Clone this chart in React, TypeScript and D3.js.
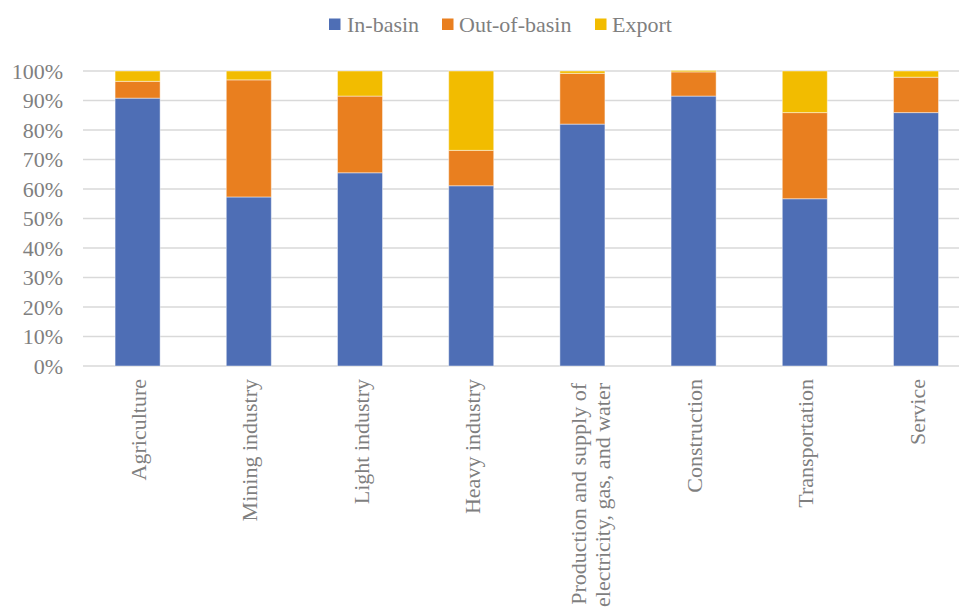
import React from "react";
import * as d3 from "d3";

const categories = [
  "Agriculture",
  "Mining industry",
  "Light industry",
  "Heavy industry",
  "Production and supply of|electricity, gas, and water",
  "Construction",
  "Transportation",
  "Service",
];
const seriesNames = ["In-basin", "Out-of-basin", "Export"];
const inBasin = [0.908, 0.573, 0.655, 0.611, 0.82, 0.915, 0.567, 0.859];
const outBasin = [0.057, 0.397, 0.26, 0.12, 0.172, 0.082, 0.292, 0.12];
const exportShare = [0.035, 0.03, 0.085, 0.269, 0.008, 0.005, 0.141, 0.021];
const colors = ["#4E6EB5", "#E97F1F", "#F2BC00"];
const yTicks = [0, 0.1, 0.2, 0.3, 0.4, 0.5, 0.6, 0.7, 0.8, 0.9, 1.0];

const W = 959;
const H = 608;
const FONT = '"Liberation Serif", "Times New Roman", Times, serif';

export default function App() {
  const x = d3.scaleBand<string>().domain(categories).range([82, 971.6]).paddingInner(0.595).paddingOuter(0.2975);
  const y = d3.scaleLinear().domain([0, 1]).range([366, 71]);

  const rows = categories.map((c, i) => ({
    cat: c,
    "In-basin": inBasin[i],
    "Out-of-basin": outBasin[i],
    Export: exportShare[i],
  }));
  const stacked = d3.stack<any>().keys(seriesNames)(rows);

  const legendItems = [
    { name: "In-basin", sx: 329, tx: 347 },
    { name: "Out-of-basin", sx: 442, tx: 459 },
    { name: "Export", sx: 595, tx: 612 },
  ];

  const textStyle = { fontFamily: FONT, fontSize: "22px", fill: "#7f7f7f" } as React.CSSProperties;

  return (
    <svg width={W} height={H} style={{ display: "block", position: "absolute", left: 0, top: 0 }}>
      <rect width={W} height={H} fill="#fff" />
      {yTicks.map((t) => (
        <g key={t}>
          <line x1={83} x2={W} y1={y(t)} y2={y(t)} stroke="#d9d9d9" strokeWidth={1.5} />
          <text x={63} y={y(t)} dy="0.35em" textAnchor="end" style={textStyle}>
            {d3.format(".0%")(t)}
          </text>
        </g>
      ))}
      {stacked.map((s, si) => (
        <g key={s.key} fill={colors[si]}>
          {s.map((d: any, i: number) => (
            <rect
              key={i}
              x={x(categories[i])}
              width={x.bandwidth()}
              y={y(d[1])}
              height={y(d[0]) - y(d[1])}
              stroke="#ffffff"
              strokeOpacity={0.45}
              strokeWidth={1}
            />
          ))}
        </g>
      ))}
      {categories.map((c) => {
        const cx = (x(c) as number) + x.bandwidth() / 2;
        const lines = c.split("|");
        const offsets = lines.length === 1 ? [8.5] : [3.5, 28];
        const top = lines.length === 1 ? 379 : 383;
        return lines.map((ln, li) => (
          <text
            key={c + li}
            transform={`translate(${cx + offsets[li]},${top}) rotate(-90)`}
            textAnchor="end"
            style={textStyle}
          >
            {ln}
          </text>
        ));
      })}
      {legendItems.map((l, i) => (
        <g key={l.name}>
          <rect x={l.sx} y={18.5} width={11.5} height={11.5} fill={colors[i]} />
          <text x={l.tx} y={24} dy="0.35em" style={textStyle}>
            {l.name}
          </text>
        </g>
      ))}
    </svg>
  );
}
